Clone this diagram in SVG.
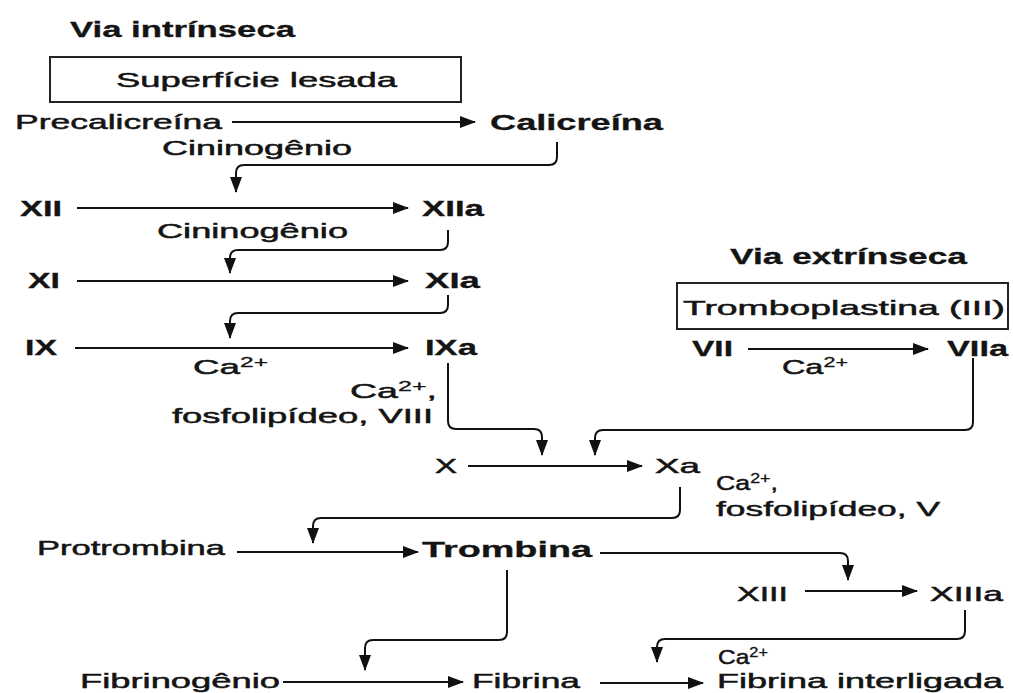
<svg xmlns="http://www.w3.org/2000/svg" width="1013" height="693" viewBox="0 0 1013 693">
<defs>
<marker id="ah" markerUnits="userSpaceOnUse" viewBox="0 0 16 12" markerWidth="16" markerHeight="12" refX="15" refY="6" orient="auto">
<path d="M0,0 L16,6 L0,12 z" fill="#111"/>
</marker>
<style>
text{font-family:"Liberation Sans",Arial,sans-serif;font-size:21px;fill:#141414;stroke:#141414;stroke-width:0.5}
.b{font-weight:bold;font-size:22px;stroke-width:0.3}
.sup{font-size:14px;stroke-width:0.3}
.box{fill:none;stroke:#222;stroke-width:2}
.c path{fill:none;stroke:#111;stroke-width:2;marker-end:url(#ah)}
</style>
</defs>
<rect width="1013" height="693" fill="#fff"/>

<g id="title-intrinseca"><text class="b" x="70" y="37" textLength="225" lengthAdjust="spacingAndGlyphs">Via intrínseca</text></g>
<g id="superficie"><rect class="box" x="50" y="57" width="411" height="45"/><text x="116" y="87" textLength="281" lengthAdjust="spacingAndGlyphs">Superfície lesada</text></g>
<g id="precalicreina"><text x="15" y="129" textLength="207" lengthAdjust="spacingAndGlyphs">Precalicreína</text></g>
<g id="calicreina"><text class="b" x="490" y="130" textLength="173" lengthAdjust="spacingAndGlyphs">Calicreína</text></g>
<g id="cininogenio1"><text x="162" y="155" textLength="190" lengthAdjust="spacingAndGlyphs">Cininogênio</text></g>
<g id="XII"><text class="b" x="20" y="216" textLength="42" lengthAdjust="spacingAndGlyphs">XII</text></g>
<g id="XIIa"><text class="b" x="422" y="216" textLength="62" lengthAdjust="spacingAndGlyphs">XIIa</text></g>
<g id="cininogenio2"><text x="157" y="238" textLength="191" lengthAdjust="spacingAndGlyphs">Cininogênio</text></g>
<g id="XI"><text class="b" x="28" y="288" textLength="32" lengthAdjust="spacingAndGlyphs">XI</text></g>
<g id="XIa"><text class="b" x="425" y="288" textLength="55" lengthAdjust="spacingAndGlyphs">XIa</text></g>
<g id="IX"><text class="b" x="25" y="355" textLength="32" lengthAdjust="spacingAndGlyphs">IX</text></g>
<g id="IXa"><text class="b" x="425" y="355" textLength="52" lengthAdjust="spacingAndGlyphs">IXa</text></g>
<g id="ca-ix"><text x="193" y="374" textLength="75" lengthAdjust="spacingAndGlyphs">Ca<tspan class="sup" dy="-7">2+</tspan></text></g>
<g id="cofator-viii"><text x="350" y="398" textLength="87" lengthAdjust="spacingAndGlyphs">Ca<tspan class="sup" dy="-7">2+</tspan><tspan dy="7">,</tspan></text><text x="172" y="423" textLength="261" lengthAdjust="spacingAndGlyphs">fosfolipídeo, VIII</text></g>

<g id="title-extrinseca"><text class="b" x="730" y="264" textLength="237" lengthAdjust="spacingAndGlyphs">Via extrínseca</text></g>
<g id="tromboplastina"><rect class="box" x="677" y="283" width="331" height="46"/><text x="683" y="315" textLength="322" lengthAdjust="spacingAndGlyphs">Tromboplastina (III)</text></g>
<g id="VII"><text class="b" x="692" y="356" textLength="41" lengthAdjust="spacingAndGlyphs">VII</text></g>
<g id="VIIa"><text class="b" x="947" y="356" textLength="61" lengthAdjust="spacingAndGlyphs">VIIa</text></g>
<g id="ca-vii"><text x="782" y="374" textLength="66" lengthAdjust="spacingAndGlyphs">Ca<tspan class="sup" dy="-7">2+</tspan></text></g>

<g id="X"><text x="435" y="473" textLength="22" lengthAdjust="spacingAndGlyphs">X</text></g>
<g id="Xa"><text x="655" y="473" textLength="45" lengthAdjust="spacingAndGlyphs">Xa</text></g>
<g id="cofator-v"><text x="716" y="490" textLength="62" lengthAdjust="spacingAndGlyphs">Ca<tspan class="sup" dy="-7">2+</tspan><tspan dy="7">,</tspan></text><text x="716" y="516" textLength="224" lengthAdjust="spacingAndGlyphs">fosfolipídeo, V</text></g>

<g id="protrombina"><text x="37" y="555" textLength="188" lengthAdjust="spacingAndGlyphs">Protrombina</text></g>
<g id="trombina"><text class="b" x="422" y="557" textLength="170" lengthAdjust="spacingAndGlyphs">Trombina</text></g>
<g id="XIII"><text x="737" y="601" textLength="51" lengthAdjust="spacingAndGlyphs">XIII</text></g>
<g id="XIIIa"><text x="930" y="601" textLength="73" lengthAdjust="spacingAndGlyphs">XIIIa</text></g>
<g id="fibrinogenio"><text x="80" y="688" textLength="200" lengthAdjust="spacingAndGlyphs">Fibrinogênio</text></g>
<g id="fibrina"><text x="472" y="688" textLength="108" lengthAdjust="spacingAndGlyphs">Fibrina</text></g>
<g id="ca-xiii"><text x="718" y="664" textLength="50" lengthAdjust="spacingAndGlyphs">Ca<tspan class="sup" dy="-7">2+</tspan></text></g>
<g id="fibrina-interligada"><text x="717" y="688" textLength="286" lengthAdjust="spacingAndGlyphs">Fibrina interligada</text></g>

<g id="connectors" class="c">
<path d="M232,122 H475"/>
<path d="M77,208 H408"/>
<path d="M77,281 H408"/>
<path d="M75,348 H408"/>
<path d="M748,349 H928"/>
<path d="M468,466 H642"/>
<path d="M237,552 H418"/>
<path d="M805,591 H917"/>
<path d="M283,682 H463"/>
<path d="M600,683 H703"/>
<path d="M557,142 V157 Q557,165 549,165 H244 Q236,165 236,173 V192"/>
<path d="M448,230 V242 Q448,250 440,250 H238 Q230,250 230,258 V273"/>
<path d="M448,295 V305 Q448,313 440,313 H238 Q230,313 230,321 V338"/>
<path d="M448,363 V421 Q448,429 456,429 H534 Q542,429 542,437 V455"/>
<path d="M973,358 V422 Q973,430 965,430 H603 Q595,430 595,438 V455"/>
<path d="M680,487 V510 Q680,518 672,518 H321 Q313,518 313,526 V543"/>
<path d="M600,553 H840 Q848,553 848,561 V580"/>
<path d="M507,570 V632 Q507,640 499,640 H373 Q365,640 365,648 V670"/>
<path d="M965,610 V631 Q965,639 957,639 H665 Q657,639 657,647 V662"/>
</g>
</svg>
